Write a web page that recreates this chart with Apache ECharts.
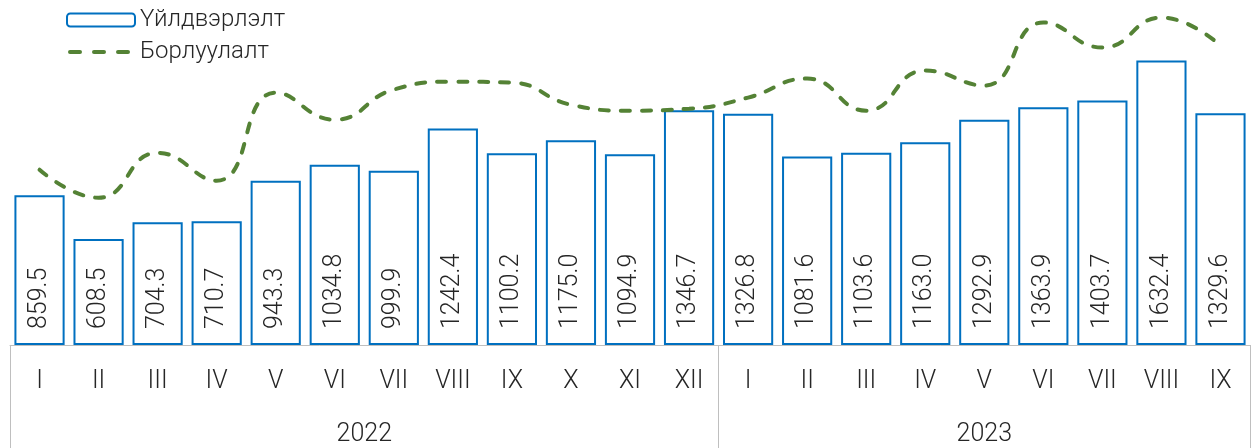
<!DOCTYPE html>
<html>
<head>
<meta charset="utf-8">
<script src="https://cdn.jsdelivr.net/npm/echarts@6/dist/echarts.min.js"></script>
<style>
  html, body { margin: 0; padding: 0; background: #fff; }
  #chart { width: 1254px; height: 448px; }
</style>
</head>
<body>
<div id="chart"></div>
<script>
// сарууд (2022 I–XII, 2023 I–IX)
const months = ['I', 'II', 'III', 'IV', 'V', 'VI', 'VII', 'VIII', 'IX', 'X', 'XI', 'XII',
  'I', 'II', 'III', 'IV', 'V', 'VI', 'VII', 'VIII', 'IX']
const years = ['2022', '2023']
const yearSpans = [12, 9]

// Үйлдвэрлэлт
const production = [859.5, 608.5, 704.3, 710.7, 943.3, 1034.8, 999.9, 1242.4, 1100.2, 1175.0, 1094.9, 1346.7,
  1326.8, 1081.6, 1103.6, 1163.0, 1292.9, 1363.9, 1403.7, 1632.4, 1329.6]
// Борлуулалт (зургаас уншсан ойролцоо утга)
const sales = [1006, 845, 1103, 943, 1448, 1293, 1466, 1511, 1506, 1379, 1345, 1356,
  1420, 1529, 1345, 1575, 1489, 1851, 1707, 1879, 1718]

const textColor = '#262626'
const font = 'Roboto'
const green = '#548235'

// жилийн хил, төвүүд
const bounds = [0]
yearSpans.forEach(s => bounds.push(bounds[bounds.length - 1] + s))
const centers = yearSpans.map((s, i) => bounds[i] + s / 2)

const chart = echarts.init(document.getElementById('chart'))

chart.setOption({
  animation: false,
  legend: {
    orient: 'vertical',
    left: 60,
    top: 2,
    itemWidth: 68,
    itemHeight: 13,
    itemGap: 6,
    textStyle: { fontFamily: font, fontWeight: 300, fontSize: 24, color: textColor, lineHeight: 26 },
    data: ['Үйлдвэрлэлт', {
      name: 'Борлуулалт',
      itemStyle: { opacity: 0 },
      lineStyle: { color: green, width: 4, type: [10, 14], dashOffset: -3, cap: 'round' }
    }]
  },
  grid: { left: 10, right: 4, top: 0, bottom: 103 },
  xAxis: [{
    type: 'category',
    data: months,
    axisLine: { lineStyle: { color: '#bfbfbf', width: 1 } },
    axisTick: { show: false },
    axisLabel: { fontFamily: font, fontWeight: 300, fontSize: 25, color: textColor, margin: 24, interval: 0 }
  }, {
    type: 'value',
    position: 'bottom',
    min: 0,
    max: bounds[bounds.length - 1],
    axisLine: { show: false },
    splitLine: { show: false },
    axisTick: {
      show: true,
      customValues: bounds,
      length: 103,
      lineStyle: { color: '#bfbfbf', width: 1 }
    },
    axisLabel: {
      customValues: centers,
      margin: 77,
      fontFamily: font, fontWeight: 300, fontSize: 25, color: textColor,
      formatter: v => years[centers.indexOf(v)] || ''
    }
  }],
  yAxis: {
    type: 'value',
    min: 0,
    max: 1980,
    show: false
  },
  series: [{
    name: 'Үйлдвэрлэлт',
    type: 'bar',
    data: production,
    barCategoryGap: '15%',
    itemStyle: { color: '#ffffff', borderColor: '#0070c0', borderWidth: 2 },
    label: {
      show: true,
      position: 'insideBottom',
      rotate: 90,
      align: 'left',
      verticalAlign: 'middle',
      distance: 16,
      fontFamily: font, fontWeight: 300, fontSize: 25, color: textColor,
      formatter: p => p.value.toFixed(1)
    }
  }, {
    name: 'Борлуулалт',
    type: 'line',
    data: sales,
    smooth: 0.5,
    symbol: 'none',
    itemStyle: { color: green },
    lineStyle: { color: green, width: 4, type: [9, 12], cap: 'round' }
  }]
})
</script>
</body>
</html>
